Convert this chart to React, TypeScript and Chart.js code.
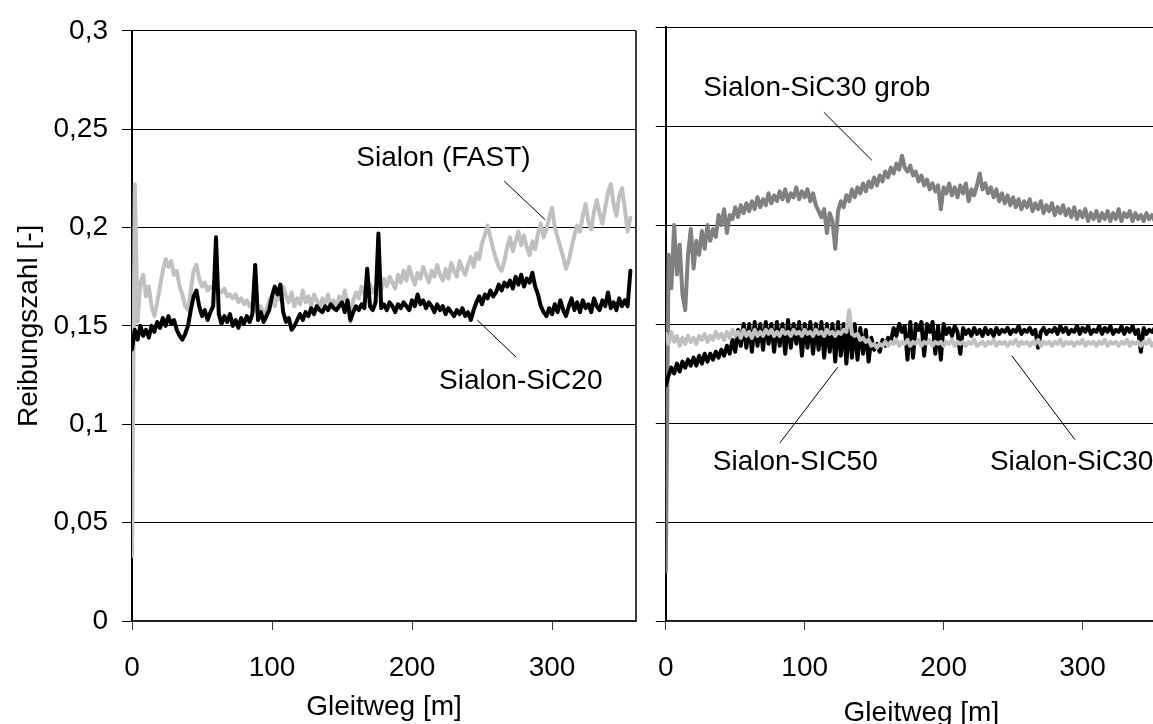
import React, { useEffect, useRef } from "react";
import { Chart, registerables } from "chart.js";

Chart.register(...registerables);

const FONT = "'Liberation Sans', Arial, Helvetica, sans-serif";

// Sampling distance along the sliding path [m]
const STEP_M = 2;

// Friction coefficient values in thousandths (‰), sampled every STEP_M metres from 0 m
// Left panel
const leftSiC20 = [
  138,148,143,150,145,148,144,150,147,152,
  149,154,150,155,151,153,148,145,143,146,
  150,158,165,168,160,155,158,153,157,160,
  195,156,151,155,152,156,150,153,149,154,
  151,155,152,156,181,153,157,152,155,158,
  165,170,166,171,157,152,154,148,150,153,
  156,153,157,155,159,156,160,158,157,160,
  158,161,159,158,160,162,157,163,153,157,
  160,158,161,159,179,160,158,162,197,159,
  161,158,162,160,157,161,159,162,160,158,
  163,160,166,161,163,159,162,160,157,161,
  158,160,156,159,157,155,158,156,159,155,
  157,153,158,162,165,161,166,164,168,165,
  167,171,168,172,170,173,169,175,171,176,
  170,174,172,177,170,166,160,157,155,159,
  156,161,157,163,158,155,160,164,158,162,
  157,163,159,161,157,164,160,158,163,160,
  167,159,162,158,164,160,163,160,178,
];

const leftFast = [
  33,222,152,172,176,165,170,160,155,162,
  170,178,184,180,183,176,178,170,166,160,
  158,168,178,181,174,170,172,168,170,169,
  171,168,167,169,165,166,164,166,162,164,
  161,163,160,162,158,157,160,156,158,163,
  165,160,167,163,170,165,162,167,160,164,
  161,168,162,165,160,166,163,159,164,161,
  166,160,163,158,165,162,168,160,152,163,
  167,164,170,166,168,171,167,170,173,168,
  174,170,175,172,169,176,172,178,173,180,
  175,171,177,174,180,176,172,178,175,181,
  176,173,179,174,182,178,175,183,179,176,
  181,185,180,187,184,192,196,201,195,189,
  184,180,178,183,190,195,188,193,198,191,
  196,190,186,193,189,197,202,195,199,205,
  210,200,195,190,185,179,183,190,196,201,
  198,206,212,203,199,208,214,207,202,210,
  218,222,212,206,216,220,210,198,205,
];

// Right panel
const rightSiC30 = [
  145,140,146,141,144,139,143,140,144,141,
  143,140,144,142,145,141,144,142,146,143,
  145,142,146,143,147,144,146,143,147,144,
  146,143,147,144,146,144,147,145,147,144,
  146,144,147,145,146,144,147,145,146,144,
  147,145,146,144,147,145,146,144,147,145,
  146,144,146,145,147,146,157,145,144,145,
  142,143,141,142,139,140,138,140,139,141,
  139,141,140,142,139,141,140,142,139,141,
  140,142,139,141,140,142,139,141,140,141,
  139,141,140,142,139,141,140,141,139,141,
  140,142,139,140,141,139,141,140,142,139,
  141,140,141,139,141,140,142,139,141,140,
  141,139,141,140,142,139,141,140,141,139,
  141,140,142,139,141,140,141,139,141,140,
  142,139,141,140,141,139,141,140,142,139,
  141,140,141,139,141,140,142,139,141,140,
  141,139,141,140,142,139,141,140,141,
];

const rightSiC50 = [
  119,124,128,125,130,126,131,128,132,129,
  133,129,134,130,135,131,135,132,136,133,
  137,134,139,135,142,136,147,139,150,138,
  150,136,151,139,150,137,151,140,150,136,
  151,139,150,135,152,138,150,140,151,134,
  150,138,151,135,150,137,151,133,150,136,
  150,131,151,134,150,130,151,133,150,132,
  148,135,147,131,143,137,140,136,142,139,
  143,141,148,144,150,146,149,132,151,133,
  150,147,151,134,150,146,151,135,149,132,
  150,145,148,144,149,146,135,148,145,147,
  144,148,145,147,144,148,145,147,144,148,
  145,147,146,148,145,147,146,149,145,147,
  146,148,145,147,138,146,148,145,147,146,
  148,145,149,146,148,145,147,146,149,145,
  148,146,149,145,147,146,149,145,148,146,
  149,145,147,146,149,145,148,146,149,145,
  147,136,148,145,147,146,148,145,147,
];

const rightSiC30grob = [
  25,185,168,200,175,190,165,157,185,198,
  178,192,185,197,188,200,192,198,194,205,
  200,208,196,205,203,209,204,210,206,211,
  207,212,208,214,209,213,210,216,211,215,
  212,217,213,218,212,216,214,219,213,217,
  214,218,212,216,210,207,204,208,196,206,
  202,188,207,212,209,215,212,218,214,219,
  216,221,217,222,219,224,220,225,222,227,
  224,229,226,231,228,235,229,227,230,225,
  227,222,225,220,223,218,221,217,220,208,
  219,216,221,215,219,214,220,216,221,212,
  218,215,220,226,218,221,216,219,214,218,
  212,216,211,215,210,214,209,213,208,212,
  209,213,207,211,208,212,206,210,207,211,
  205,209,206,210,205,208,204,209,203,207,
  204,208,202,206,203,207,202,206,203,207,
  202,206,203,208,202,206,204,207,202,206,
  203,205,202,206,203,205,202,206,204,
];

// Axis settings
const yMin = 0;
const yMax = 0.3;
const yStep = 0.05;
const xStep = 100;
const leftXMax = 360;
const rightXMax = 368;

// Annotations in data coordinates [m, friction]
type Label = {
  text: string;
  at: [number, number];
  align: CanvasTextAlign;
  leader: [[number, number], [number, number]];
};

const leftLabels: Label[] = [
  { text: "Sialon (FAST)", at: [222.5, 0.2352], align: "center", leader: [[265.9, 0.2236], [295.2, 0.2039]] },
  { text: "Sialon-SiC20", at: [277.7, 0.1219], align: "center", leader: [[246.6, 0.153], [274.5, 0.134]] },
];

const rightLabels: Label[] = [
  { text: "Sialon-SiC30 grob", at: [108.7, 0.2688], align: "center", leader: [[113.8, 0.2569], [148.3, 0.2327]] },
  { text: "Sialon-SIC50", at: [93.2, 0.0804], align: "center", leader: [[82.1, 0.0899], [123.8, 0.1282]] },
  { text: "Sialon-SiC30", at: [233.3, 0.0804], align: "left", leader: [[249.1, 0.134], [294.5, 0.0916]] },
];

const toPoints = (permille: number[]) =>
  permille.map((v, i) => ({ x: i * STEP_M, y: v / 1000 }));

const fmtY = (v: number | string) =>
  String(Number(Number(v).toFixed(2))).replace(".", ",");

const annotPlugin = (labels: Label[], rightBorder: boolean) => ({
  id: "annot",
  afterDatasetsDraw(chart: any) {
    const { ctx, chartArea, scales } = chart;
    const xs = scales.x;
    const ys = scales.y;
    ctx.save();
    if (rightBorder) {
      ctx.strokeStyle = "#3a3a3a";
      ctx.lineWidth = 2;
      ctx.beginPath();
      ctx.moveTo(chartArea.right, chartArea.top);
      ctx.lineTo(chartArea.right, chartArea.bottom);
      ctx.stroke();
    }
    ctx.font = `28px ${FONT}`;
    ctx.fillStyle = "#000";
    ctx.textBaseline = "middle";
    labels.forEach((l) => {
      ctx.textAlign = l.align;
      ctx.fillText(l.text, xs.getPixelForValue(l.at[0]), ys.getPixelForValue(l.at[1]));
      ctx.strokeStyle = "#000";
      ctx.lineWidth = 1;
      ctx.beginPath();
      ctx.moveTo(xs.getPixelForValue(l.leader[0][0]), ys.getPixelForValue(l.leader[0][1]));
      ctx.lineTo(xs.getPixelForValue(l.leader[1][0]), ys.getPixelForValue(l.leader[1][1]));
      ctx.stroke();
    });
    ctx.restore();
  },
});

const lineDs = (label: string, data: number[], color: string, width: number) => ({
  label,
  data: toPoints(data),
  borderColor: color,
  backgroundColor: color,
  borderWidth: width,
  pointRadius: 0,
  tension: 0,
  fill: false,
  borderJoinStyle: "round" as const,
  borderCapStyle: "round" as const,
});

const tickFont = { size: 28, family: FONT };

function makeOptions(side: "left" | "right") {
  const isLeft = side === "left";
  return {
    responsive: false,
    animation: false as const,
    layout: { padding: { top: 27, right: isLeft ? 14 : 10, bottom: 0, left: 0 } },
    plugins: { legend: { display: false }, tooltip: { enabled: false } },
    scales: {
      x: {
        type: "linear" as const,
        min: 0,
        max: isLeft ? leftXMax : rightXMax,
        ticks: {
          stepSize: xStep,
          includeBounds: false,
          font: tickFont,
          color: "#000",
          padding: 21,
          maxRotation: 0,
          autoSkip: false,
          callback: (v: any) => String(v),
        },
        grid: { drawOnChartArea: false, drawTicks: true, tickLength: 9, color: "#333", lineWidth: 1 },
        border: { display: true, color: "#222", width: 2 },
        title: {
          display: true,
          text: "Gleitweg [m]",
          font: tickFont,
          color: "#000",
          padding: { top: 0, bottom: 0 },
        },
        afterFit: (s: any) => {
          s.height = isLeft ? 103 : 109;
        },
      },
      y: {
        type: "linear" as const,
        min: yMin,
        max: yMax,
        ticks: {
          stepSize: yStep,
          display: isLeft,
          font: tickFont,
          color: "#000",
          padding: 14,
          callback: fmtY,
        },
        grid: { color: "#000", lineWidth: 1, tickLength: 10, drawTicks: true },
        border: { display: true, color: "#000", width: 2 },
        title: {
          display: isLeft,
          text: "Reibungszahl [-]",
          font: tickFont,
          color: "#000",
          padding: { top: 12, bottom: 0 },
        },
        afterFit: (s: any) => {
          s.width = isLeft ? 132 : 16;
        },
      },
    },
  };
}

export default function App() {
  const leftRef = useRef<HTMLCanvasElement | null>(null);
  const rightRef = useRef<HTMLCanvasElement | null>(null);

  useEffect(() => {
    Chart.defaults.font.family = FONT;
    const left = new Chart(leftRef.current as HTMLCanvasElement, {
      type: "line",
      data: {
        datasets: [
          lineDs("Sialon-SiC20", leftSiC20, "#000000", 4),
          lineDs("Sialon (FAST)", leftFast, "#c0c0c0", 4),
        ],
      },
      options: makeOptions("left") as any,
      plugins: [annotPlugin(leftLabels, true)],
    });
    const right = new Chart(rightRef.current as HTMLCanvasElement, {
      type: "line",
      data: {
        datasets: [
          lineDs("Sialon-SiC30", rightSiC30, "#c0c0c0", 4),
          lineDs("Sialon-SIC50", rightSiC50, "#000000", 4),
          lineDs("Sialon-SiC30 grob", rightSiC30grob, "#808080", 4),
        ],
      },
      options: makeOptions("right") as any,
      plugins: [annotPlugin(rightLabels, false)],
    });
    return () => {
      left.destroy();
      right.destroy();
    };
  }, []);

  return (
    <div
      style={{
        position: "absolute",
        left: 0,
        top: 0,
        width: 1153,
        height: 724,
        overflow: "hidden",
        background: "#ffffff",
      }}
    >
      <canvas
        ref={leftRef}
        width={650}
        height={724}
        style={{ position: "absolute", left: 0, top: 0, width: 650, height: 724 }}
      />
      <canvas
        ref={rightRef}
        width={550}
        height={730}
        style={{ position: "absolute", left: 637, top: 0, width: 550, height: 730 }}
      />
    </div>
  );
}
